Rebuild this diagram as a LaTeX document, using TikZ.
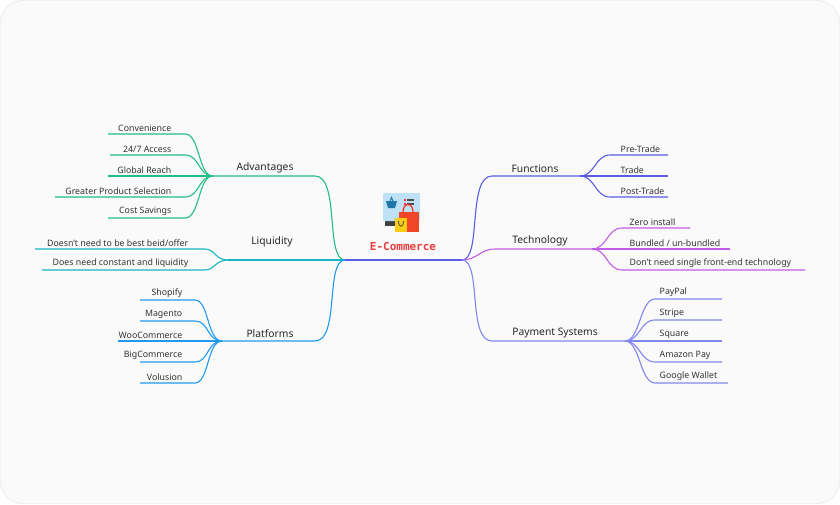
\documentclass[tikz,border=0pt]{standalone}
\usepackage{fontspec}
\setmainfont{Noto Sans}
\newfontfamily\monof{DejaVu Sans Mono}
\definecolor{cA}{RGB}{34,190,130}
\definecolor{cL}{RGB}{22,182,196}
\definecolor{cP}{RGB}{32,154,240}
\definecolor{cF}{RGB}{90,92,228}
\definecolor{cT}{RGB}{196,92,232}
\definecolor{cS}{RGB}{130,134,240}
\definecolor{scr}{RGB}{190,225,245}
\definecolor{bsk}{RGB}{30,120,170}
\definecolor{bagr}{RGB}{240,70,40}
\definecolor{bagy}{RGB}{250,205,20}
\definecolor{ttl}{RGB}{232,60,60}
\begin{document}
\begin{tikzpicture}[x=1pt,y=-1pt,
  leaf/.style={font=\fontsize{8.8}{10}\selectfont,text=black!80,inner sep=1.5pt},
  br/.style={font=\fontsize{10.3}{12}\selectfont,text=black!85,inner sep=2pt},
  ln/.style={line width=1.1pt}]
\useasboundingbox (0,0) rectangle (840,504);
\fill[black!2,draw=black!12,rounded corners=22pt] (0.5,0.5) rectangle (839.5,503.5);
% center
\coordinate (L) at (345,260); \coordinate (R) at (462,260);
\draw[ln,cF] (L) -- (R);
\node[font=\monof\bfseries\fontsize{11}{13}\selectfont,text=ttl] (title) at (403,246) {E-Commerce};
% icon
\fill[black!75] (385,221) rectangle (418,226);
\fill[black!75] (399,226) rectangle (404,230);
\fill[scr,rounded corners=1pt] (383,193) rectangle (420,221);
\fill[bsk] (386,201) -- (397,201) -- (395,208) -- (388,208) -- cycle;
\draw[bsk,line width=1pt] (390,201)--(391.5,197.5)--(393,201);
\fill[red!80] (404,199) rectangle (406,201); \fill[black!70] (407,199) rectangle (414,200.5);
\fill[red!80] (404,203) rectangle (406,205); \fill[black!70] (407,203) rectangle (414,204.5);
\draw[red!80,line width=1.3pt] (403,212) .. controls (403,202) and (413,202) .. (413,212);
\fill[bagr] (399,212) rectangle (419,232);
\fill[bagy] (395,218) rectangle (407,232);
\draw[black!70,line width=0.8pt] (398.5,221) .. controls (398.5,228) and (403.5,228) .. (403.5,221);
% Left branches
\node[br,anchor=south] (adv) at (265,175) {Advantages};
\coordinate (advh) at (213,176);
\draw[ln,cA] (L) .. controls (325,260) and (340,176) .. (315,176) -- (advh);
\foreach \t/\y/\x in {{Convenience}/134/108,{24/7 Access}/155/110,{Global Reach}/176/108,{Greater Product Selection}/197/55,{Cost Savings}/218/108}{
  \node[leaf,anchor=south east] at (173,\y-0.5) {\t};
  \draw[ln,cA] (advh) .. controls (198,176) and (200,\y) .. (185,\y) -- (\x,\y);}
\node[br,anchor=south] (liq) at (272,249) {Liquidity};
\coordinate (liqh) at (228,260);
\draw[ln,cL] (L) -- (liqh);
\foreach \t/\y/\x in {{Doesn't need to be best beid/offer}/249/35,{Does need constant and liquidity}/270/42}{
  \node[leaf,anchor=south east] at (190,\y-0.5) {\t};
  \draw[ln,cL] (liqh) .. controls (215,260) and (215,\y) .. (205,\y) -- (\x,\y);}
\node[br,anchor=south] (plat) at (270,340) {Platforms};
\coordinate (plath) at (222,341);
\draw[ln,cP] (L) .. controls (325,260) and (340,341) .. (315,341) -- (plath);
\foreach \t/\y/\x in {Shopify/300/140,Magento/321/140,WooCommerce/341/118,BigCommerce/362/140,Volusion/383/140}{
  \node[leaf,anchor=south east] at (184,\y-0.5) {\t};
  \draw[ln,cP] (plath) .. controls (207,341) and (209,\y) .. (195,\y) -- (\x,\y);}
% Right branches
\node[br,anchor=south] (fun) at (535,175) {Functions};
\coordinate (funh) at (580,176);
\draw[ln,cF] (R) .. controls (482,260) and (467,176) .. (492,176) -- (funh);
\foreach \t/\y/\x in {Pre-Trade/155/668,Trade/176/668,Post-Trade/197/668}{
  \node[leaf,anchor=south west] at (619,\y-0.5) {\t};
  \draw[ln,cF] (funh) .. controls (595,176) and (595,\y) .. (610,\y) -- (\x,\y);}
\node[br,anchor=south] (tech) at (540,248) {Technology};
\coordinate (techh) at (592,249);
\draw[ln,cT] (R) .. controls (477,260) and (480,249) .. (495,249) -- (techh);
\foreach \t/\y/\x in {{Zero install}/228/690,{Bundled / un-bundled}/249/730,{Don't need single front-end technology}/270/805}{
  \node[leaf,anchor=south west] at (628,\y-0.5) {\t};
  \draw[ln,cT] (techh) .. controls (607,249) and (607,\y) .. (622,\y) -- (\x,\y);}
\node[br,anchor=south] (pay) at (555,340) {Payment Systems};
\coordinate (payh) at (625,341);
\draw[ln,cS] (R) .. controls (482,260) and (467,341) .. (492,341) -- (payh);
\foreach \t/\y/\x in {PayPal/299/722,Stripe/320/722,Square/341/722,{Amazon Pay}/362/722,{Google Wallet}/383/728}{
  \node[leaf,anchor=south west] at (658,\y-0.5) {\t};
  \draw[ln,cS] (payh) .. controls (640,341) and (640,\y) .. (655,\y) -- (\x,\y);}
\end{tikzpicture}
\end{document}
